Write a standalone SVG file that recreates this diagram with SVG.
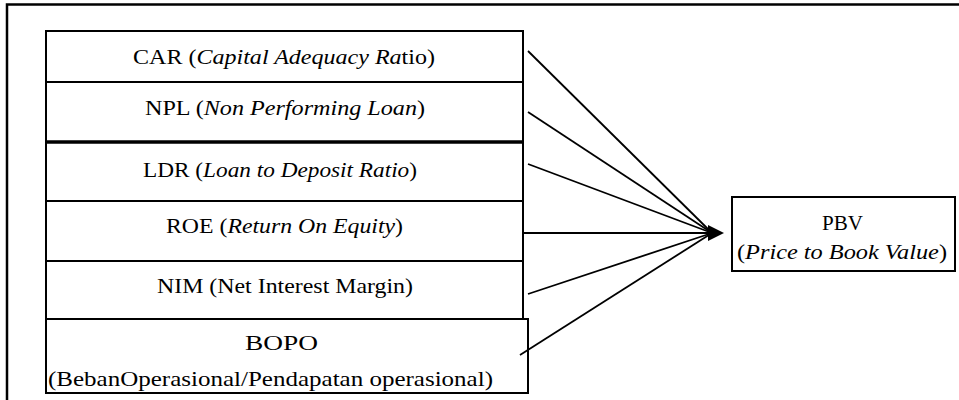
<svg xmlns="http://www.w3.org/2000/svg" width="959" height="400" viewBox="0 0 959 400">
<style>
.box{fill:#fff;stroke:#000;stroke-width:2}
.t{font-family:'Liberation Serif','Times New Roman',serif;font-size:21px;fill:#000}
.i{font-style:italic}
.c{stroke:#000;stroke-width:1.8;fill:none}
</style>
<rect width="959" height="400" fill="#fff"/>
<path d="M7,400 V4.5 H959" fill="none" stroke="#000" stroke-width="2.5"/>
<g id="car"><rect class="box" x="46" y="31" width="477" height="51"/>
<text class="t" x="133" y="64" textLength="302" lengthAdjust="spacingAndGlyphs">CAR (<tspan class="i">Capital Adequacy Ra</tspan>tio)</text></g>
<g id="npl"><rect class="box" x="46" y="82" width="477" height="60"/>
<text class="t" x="145" y="115" textLength="280" lengthAdjust="spacingAndGlyphs">NPL (<tspan class="i">Non Performing Loan</tspan>)</text></g>
<g id="ldr"><rect class="box" x="46" y="142" width="477" height="59"/>
<text class="t" x="143" y="177" textLength="274" lengthAdjust="spacingAndGlyphs">LDR (<tspan class="i">Loan to Deposit Ratio</tspan>)</text></g>
<line x1="46" y1="142" x2="523" y2="142" stroke="#000" stroke-width="3.5"/>
<g id="roe"><rect class="box" x="46" y="201" width="477" height="60"/>
<text class="t" x="166" y="233" textLength="237" lengthAdjust="spacingAndGlyphs">ROE (<tspan class="i">Return On Equity</tspan>)</text></g>
<g id="nim"><rect class="box" x="46" y="261" width="477" height="58"/>
<text class="t" x="157" y="293" textLength="256" lengthAdjust="spacingAndGlyphs">NIM (Net Interest Margin)</text></g>
<g id="bopo"><rect class="box" x="46" y="319" width="482" height="74"/>
<text class="t" x="245" y="350" textLength="73" lengthAdjust="spacingAndGlyphs">BOPO</text>
<text class="t" x="48" y="386" textLength="445" lengthAdjust="spacingAndGlyphs">(BebanOperasional/Pendapatan operasional)</text></g>
<g id="pbv"><rect class="box" x="732" y="197" width="223" height="74"/>
<text class="t" x="822" y="230" textLength="41" lengthAdjust="spacingAndGlyphs">PBV</text>
<text class="t" x="737" y="259" textLength="210" lengthAdjust="spacingAndGlyphs">(<tspan class="i">Price to Book Value</tspan>)</text></g>
<g id="connectors">
<line class="c" x1="528" y1="51" x2="712" y2="233"/>
<line class="c" x1="528" y1="112" x2="712" y2="233"/>
<line class="c" x1="528" y1="164" x2="712" y2="233"/>
<line class="c" x1="523" y1="233" x2="712" y2="233"/>
<line class="c" x1="528" y1="294" x2="712" y2="233"/>
<line class="c" x1="520" y1="355" x2="712" y2="233"/>
<polygon points="724,233 708,225 708,241" fill="#000"/>
</g>
</svg>
